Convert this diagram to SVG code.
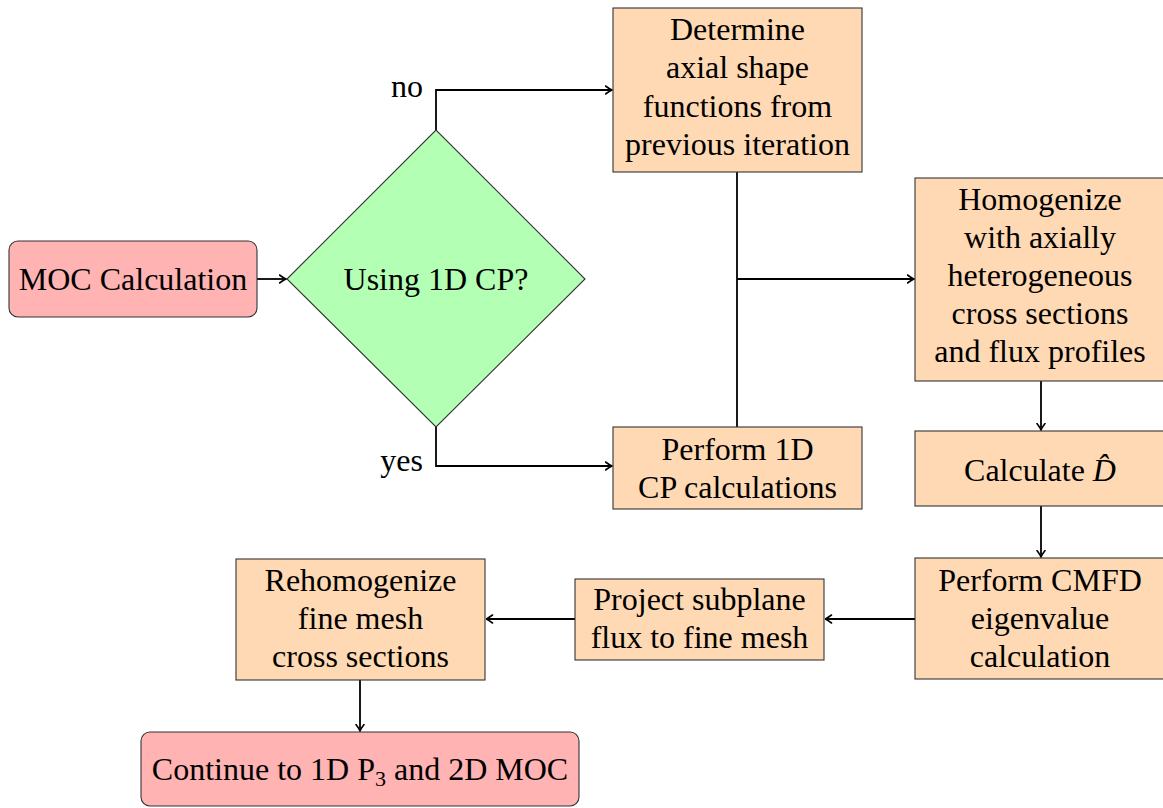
<svg xmlns="http://www.w3.org/2000/svg" width="1163" height="808" viewBox="0 0 1163 808">
<defs>
<marker id="ah" viewBox="-6 -5 8 10" refX="1.5" refY="0" markerWidth="8" markerHeight="10" markerUnits="userSpaceOnUse" orient="auto">
<path d="M -5 -4 Q -1 -1 1.5 0 Q -1 1 -5 4" fill="none" stroke="#000" stroke-width="1.6" stroke-linecap="round"/>
</marker>
</defs>
<style>
text{font-size:32px;fill:#000;text-anchor:middle}
.proc{fill:#FFD9B3;stroke:#333;stroke-width:1.1}
.term{fill:#FFB3B3;stroke:#333;stroke-width:1.1}
.dec{fill:#B3FFB3;stroke:#333;stroke-width:1.1}
.c{fill:none;stroke:#000;stroke-width:1.8;marker-end:url(#ah)}
.l{fill:none;stroke:#000;stroke-width:1.8}
</style>
<rect width="1163" height="808" fill="#fff"/>
<g font-family="Liberation Serif, serif">
<g id="connectors">
<path class="c" d="M257 279 H286"/>
<path class="c" d="M436 130 V90 H612"/>
<path class="c" d="M436 427 V466 H612"/>
<path class="l" d="M737 172 V427"/>
<path class="c" d="M737 279 H914"/>
<path class="c" d="M1041 381 V430"/>
<path class="c" d="M1041 506 V557"/>
<path class="c" d="M915 619 H825"/>
<path class="c" d="M575 619 H486"/>
<path class="c" d="M360 680 V731"/>
<text x="423" y="97" style="text-anchor:end">no</text>
<text x="423" y="471" style="text-anchor:end">yes</text>
</g>
<g id="moc">
<rect class="term" x="9" y="241" width="248" height="76" rx="9"/>
<text x="133" y="290">MOC Calculation</text>
</g>
<g id="decision">
<polygon class="dec" points="287,279 436,130 585,279 436,427"/>
<text x="436" y="290">Using 1D CP?</text>
</g>
<g id="determine">
<rect class="proc" x="613" y="8" width="249" height="164"/>
<text x="737.5"><tspan x="737.5" y="40">Determine</tspan><tspan x="737.5" y="78">axial shape</tspan><tspan x="737.5" y="117">functions from</tspan><tspan x="737.5" y="155">previous iteration</tspan></text>
</g>
<g id="perform1d">
<rect class="proc" x="613" y="427" width="249" height="82"/>
<text x="737.5"><tspan x="737.5" y="460">Perform 1D</tspan><tspan x="737.5" y="498">CP calculations</tspan></text>
</g>
<g id="homogenize">
<rect class="proc" x="915" y="178" width="249" height="203"/>
<text x="1040"><tspan x="1040" y="210">Homogenize</tspan><tspan x="1040" y="248">with axially</tspan><tspan x="1040" y="286">heterogeneous</tspan><tspan x="1040" y="324">cross sections</tspan><tspan x="1040" y="362">and flux profiles</tspan></text>
</g>
<g id="calcD">
<rect class="proc" x="915" y="431" width="249" height="75"/>
<text x="1040" y="481">Calculate <tspan font-style="italic">D̂</tspan></text>
</g>
<g id="cmfd">
<rect class="proc" x="915" y="558" width="249" height="121"/>
<text x="1040"><tspan x="1040" y="591">Perform CMFD</tspan><tspan x="1040" y="629">eigenvalue</tspan><tspan x="1040" y="667">calculation</tspan></text>
</g>
<g id="project">
<rect class="proc" x="575" y="579" width="249" height="81"/>
<text x="699.5"><tspan x="699.5" y="610">Project subplane</tspan><tspan x="699.5" y="648">flux to fine mesh</tspan></text>
</g>
<g id="rehomogenize">
<rect class="proc" x="236" y="559" width="249" height="121"/>
<text x="360.5"><tspan x="360.5" y="591">Rehomogenize</tspan><tspan x="360.5" y="629">fine mesh</tspan><tspan x="360.5" y="667">cross sections</tspan></text>
</g>
<g id="continue">
<rect class="term" x="141" y="732" width="438" height="74" rx="9"/>
<text x="360" y="780">Continue to 1D P<tspan font-size="22" dy="6">3</tspan><tspan dy="-6"> and 2D MOC</tspan></text>
</g>
</g>
</svg>
